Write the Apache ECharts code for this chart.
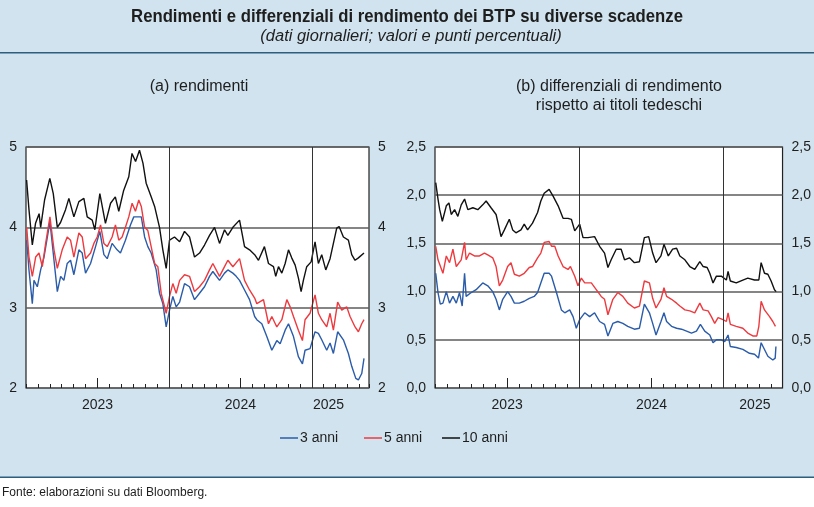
<!DOCTYPE html>
<html>
<head>
<meta charset="utf-8">
<script src="https://cdn.jsdelivr.net/npm/echarts@6/dist/echarts.min.js"></script>
<style>
  html, body { margin: 0; padding: 0; background: #d0e3ee; }
  #chart { width: 814px; height: 507px; }
</style>
</head>
<body>
<div id="chart"></div>
<script>
// x = mesi dal 1 gennaio 2023 (12 = inizio 2024, 24 = inizio 2025)
// (a) rendimenti
const rend3 = [[0.06,3.84],[0.25,3.47],[0.53,3.05],[0.67,3.34],[0.95,3.26],[1.23,3.47],[1.51,3.63],[2.01,4.07],[2.35,3.59],[2.63,3.2],[2.91,3.39],[3.18,3.34],[3.46,3.55],[3.74,3.59],[4.02,3.41],[4.44,3.72],[4.72,3.68],[5.0,3.43],[5.42,3.55],[5.84,3.76],[6.2,3.95],[6.54,3.66],[6.82,3.61],[7.23,3.8],[7.65,3.72],[7.93,3.68],[8.35,3.84],[8.77,4.03],[9.05,4.13],[9.47,4.13],[9.68,4.13],[9.96,3.88],[10.23,3.76],[10.51,3.68],[10.93,3.47],[11.21,3.18],[11.49,3.05],[11.77,2.76],[12.05,2.97],[12.33,3.14],[12.61,3.01],[12.9,3.07],[13.31,3.3],[13.73,3.26],[14.15,3.1],[14.57,3.18],[14.99,3.26],[15.41,3.39],[15.69,3.45],[16.25,3.34],[16.67,3.43],[16.95,3.47],[17.37,3.43],[17.65,3.39],[17.93,3.34],[18.35,3.22],[18.77,3.1],[19.2,2.89],[19.38,2.85],[19.8,2.8],[20.22,2.64],[20.64,2.47],[21.06,2.59],[21.34,2.55],[21.76,2.72],[22.04,2.8],[22.46,2.64],[22.87,2.39],[23.21,2.3],[23.43,2.47],[23.85,2.49],[24.27,2.7],[24.55,2.68],[24.83,2.6],[25.25,2.47],[25.53,2.56],[25.81,2.43],[26.17,2.7],[26.65,2.6],[27.07,2.43],[27.35,2.27],[27.69,2.12],[27.91,2.1],[28.19,2.18],[28.38,2.37]];
const rend5 = [[0.06,4.0],[0.25,3.63],[0.53,3.39],[0.81,3.63],[1.09,3.68],[1.37,3.51],[1.65,3.8],[2.01,4.13],[2.35,3.72],[2.63,3.49],[3.04,3.72],[3.46,3.88],[3.74,3.84],[4.02,3.63],[4.44,3.93],[4.72,3.88],[5.0,3.61],[5.42,3.68],[5.7,3.8],[5.98,3.88],[6.26,4.03],[6.54,3.8],[6.82,3.76],[7.23,3.88],[7.51,4.03],[7.79,3.84],[8.07,3.88],[8.35,4.0],[8.63,4.13],[8.91,4.3],[9.19,4.2],[9.47,4.34],[9.68,4.26],[9.96,4.0],[10.23,3.96],[10.51,3.76],[10.8,3.55],[11.07,3.51],[11.35,3.18],[11.77,2.93],[12.05,3.14],[12.33,3.3],[12.61,3.18],[12.9,3.34],[13.31,3.41],[13.73,3.39],[14.15,3.2],[14.57,3.26],[14.99,3.34],[15.41,3.47],[15.69,3.55],[16.25,3.39],[16.67,3.51],[16.95,3.59],[17.37,3.51],[17.93,3.61],[18.35,3.34],[18.77,3.22],[19.2,3.12],[19.38,3.05],[19.94,3.1],[20.36,2.8],[20.64,2.89],[21.06,2.76],[21.48,2.85],[21.9,3.1],[22.18,3.01],[22.46,2.89],[22.87,2.72],[23.21,2.59],[23.43,2.85],[23.85,2.93],[24.27,3.16],[24.55,2.93],[24.83,2.85],[25.25,2.76],[25.53,2.93],[25.81,2.72],[26.17,3.07],[26.51,2.97],[26.93,3.01],[27.21,2.89],[27.63,2.76],[27.91,2.7],[28.19,2.8],[28.38,2.85]];
const rend10 = [[0.05,4.59],[0.25,4.22],[0.53,3.78],[0.8,4.05],[1.1,4.17],[1.23,4.0],[1.56,4.34],[2.0,4.61],[2.29,4.42],[2.63,4.0],[2.9,4.06],[3.32,4.22],[3.6,4.36],[4.02,4.13],[4.44,4.32],[4.86,4.36],[5.14,4.13],[5.56,4.09],[5.78,3.97],[6.2,4.42],[6.67,4.05],[7.1,4.3],[7.5,4.38],[7.79,4.2],[8.2,4.46],[8.63,4.63],[8.9,4.92],[9.2,4.82],[9.53,4.96],[9.82,4.8],[10.09,4.55],[10.51,4.38],[10.8,4.26],[11.21,4.0],[11.49,3.72],[11.77,3.49],[12.05,3.84],[12.47,3.88],[12.9,3.82],[13.31,3.95],[13.73,3.88],[14.15,3.63],[14.57,3.68],[14.99,3.78],[15.41,3.9],[15.83,4.0],[16.25,3.8],[16.67,3.97],[16.95,3.9],[17.37,4.0],[17.93,4.09],[18.35,3.76],[18.77,3.72],[19.2,3.66],[19.52,3.59],[20.02,3.76],[20.36,3.55],[20.78,3.51],[20.97,3.39],[21.2,3.51],[21.48,3.43],[21.76,3.55],[22.04,3.72],[22.31,3.62],[22.6,3.53],[22.87,3.37],[23.1,3.2],[23.29,3.34],[23.57,3.51],[23.94,3.57],[24.27,3.82],[24.55,3.55],[24.83,3.66],[25.17,3.47],[25.53,3.61],[26.09,3.99],[26.29,4.01],[26.65,3.88],[27.07,3.84],[27.35,3.66],[27.63,3.59],[27.91,3.62],[28.38,3.68]];

// (b) differenziali rispetto ai titoli tedeschi
const diff3 = [[0.06,1.19],[0.25,0.99],[0.44,0.87],[0.66,0.88],[0.94,1.0],[1.21,0.88],[1.49,0.95],[1.77,0.88],[2.04,0.99],[2.26,0.85],[2.46,1.19],[2.59,0.95],[3.01,0.99],[3.42,1.02],[3.97,1.09],[4.39,1.06],[4.8,1.0],[5.08,0.92],[5.35,0.81],[5.63,0.92],[6.04,1.0],[6.32,0.95],[6.6,0.88],[7.01,0.88],[7.42,0.9],[7.84,0.93],[8.25,0.95],[8.53,0.99],[8.8,1.09],[9.08,1.19],[9.49,1.19],[9.69,1.16],[10.1,0.99],[10.51,0.81],[10.79,0.78],[11.2,0.81],[11.48,0.74],[11.75,0.62],[12.03,0.71],[12.45,0.78],[12.86,0.74],[13.27,0.78],[13.69,0.69],[14.1,0.66],[14.38,0.54],[14.79,0.67],[15.2,0.69],[15.62,0.67],[16.03,0.64],[16.58,0.61],[17.0,0.62],[17.41,0.87],[17.83,0.78],[18.1,0.67],[18.38,0.55],[18.79,0.69],[19.04,0.78],[19.26,0.69],[19.67,0.64],[20.09,0.62],[20.5,0.61],[20.92,0.59],[21.33,0.57],[21.74,0.59],[22.07,0.66],[22.43,0.59],[22.85,0.55],[23.12,0.47],[23.4,0.5],[23.81,0.5],[24.09,0.48],[24.37,0.55],[24.56,0.43],[25.05,0.42],[25.6,0.4],[26.15,0.36],[26.57,0.35],[26.9,0.31],[27.12,0.47],[27.4,0.4],[27.68,0.33],[28.09,0.29],[28.29,0.31],[28.35,0.43]];
const diff5 = [[0.06,1.47],[0.25,1.33],[0.66,1.19],[0.94,1.37],[1.21,1.3],[1.49,1.44],[1.77,1.26],[2.18,1.33],[2.46,1.51],[2.59,1.33],[2.87,1.4],[3.28,1.37],[3.7,1.37],[4.11,1.4],[4.39,1.38],[4.8,1.35],[5.08,1.26],[5.35,1.06],[5.63,1.12],[6.04,1.26],[6.32,1.3],[6.6,1.18],[7.01,1.16],[7.42,1.19],[7.84,1.25],[8.11,1.26],[8.53,1.35],[8.8,1.4],[9.08,1.51],[9.49,1.52],[9.69,1.47],[9.96,1.47],[10.24,1.37],[10.65,1.26],[11.06,1.23],[11.26,1.26],[11.62,1.16],[11.89,1.06],[12.17,1.14],[12.45,1.09],[13.0,1.09],[13.41,1.02],[13.82,0.95],[14.1,0.92],[14.38,0.76],[14.79,0.92],[15.2,0.99],[15.62,0.95],[16.03,0.88],[16.58,0.83],[17.0,0.85],[17.41,1.11],[17.83,1.09],[18.1,0.93],[18.38,0.83],[18.79,0.92],[19.04,1.04],[19.26,0.95],[19.67,0.92],[20.09,0.88],[20.36,0.85],[20.78,0.81],[21.19,0.8],[21.6,0.78],[22.02,0.88],[22.3,0.81],[22.71,0.8],[22.98,0.74],[23.26,0.67],[23.54,0.73],[23.95,0.71],[24.23,0.69],[24.37,0.78],[24.56,0.66],[25.05,0.64],[25.6,0.62],[26.01,0.57],[26.43,0.54],[26.76,0.54],[26.93,0.64],[27.12,0.9],[27.4,0.81],[27.82,0.74],[28.09,0.69],[28.31,0.64]];
const diff10 = [[0.06,2.13],[0.25,1.96],[0.39,1.85],[0.61,1.73],[0.94,1.89],[1.16,1.92],[1.35,1.8],[1.63,1.85],[1.9,1.78],[2.18,1.9],[2.46,1.96],[2.73,1.85],[3.15,1.87],[3.56,1.85],[3.97,1.9],[4.25,1.94],[4.66,1.87],[5.08,1.8],[5.3,1.68],[5.49,1.57],[5.77,1.64],[6.18,1.75],[6.46,1.64],[6.73,1.61],[7.15,1.64],[7.42,1.7],[7.7,1.64],[8.11,1.71],[8.53,1.82],[8.8,1.94],[9.08,2.02],[9.49,2.06],[9.82,1.99],[10.24,1.89],[10.65,1.76],[11.06,1.76],[11.34,1.75],[11.62,1.63],[12.03,1.7],[12.31,1.56],[12.72,1.56],[13.27,1.57],[13.69,1.47],[14.1,1.4],[14.38,1.25],[14.65,1.33],[15.07,1.44],[15.48,1.44],[15.76,1.33],[16.17,1.35],[16.58,1.3],[17.0,1.31],[17.41,1.56],[17.77,1.57],[18.1,1.4],[18.38,1.3],[18.79,1.37],[19.04,1.49],[19.4,1.37],[19.76,1.44],[20.09,1.45],[20.36,1.37],[20.78,1.33],[21.19,1.26],[21.6,1.23],[22.02,1.31],[22.3,1.26],[22.63,1.25],[22.85,1.19],[23.12,1.09],[23.4,1.16],[23.81,1.16],[24.23,1.12],[24.37,1.21],[24.56,1.11],[25.05,1.09],[25.6,1.12],[26.01,1.14],[26.57,1.12],[26.93,1.12],[27.12,1.3],[27.4,1.19],[27.68,1.18],[27.95,1.11],[28.23,1.02],[28.37,1.0]];

// etichette degli anni (posizione in mesi) e righe verticali di inizio anno
const anniLabel = ['2023', '2024', '2025'];
const anniPosA = [6, 18, 25.4];
const anniPosB = [6, 18, 26.6];
const inizioAnno = [12, 24];
const metaAnno = [6, 18];
const nomi = ['3 anni', '5 anni', '10 anni'];

const colori = { '3 anni': '#2a5caa', '5 anni': '#ee3a3f', '10 anni': '#111111' };
const FONT = '"Liberation Sans", Arial, sans-serif';
const TXT = '#1e1e1e';

const chart = echarts.init(document.getElementById('chart'), null, { renderer: 'canvas' });

function xAxes(grid, max, anniPos) {
  return [{
    gridIndex: grid, type: 'value', min: 0, max: max, interval: 1,
    axisLine: { show: false },
    axisTick: { show: true, inside: true, length: 4, lineStyle: { color: '#222' } },
    axisLabel: { show: false }, splitLine: { show: false }
  }, {
    gridIndex: grid, type: 'value', min: 0, max: max, position: 'bottom',
    axisLine: { show: false },
    axisTick: { show: true, inside: true, length: 10, customValues: metaAnno, lineStyle: { color: '#222' } },
    axisLabel: {
      show: true, customValues: anniPos, margin: 10,
      formatter: v => anniLabel[anniPos.indexOf(v)] || '',
      fontFamily: FONT, fontSize: 14, color: TXT
    },
    splitLine: { show: false }
  }];
}

function yAxes(grid, min, max, step, fmt) {
  const base = {
    gridIndex: grid, type: 'value', min: min, max: max, interval: step,
    axisLine: { show: false }, axisTick: { show: false }
  };
  return [
    Object.assign({}, base, {
      position: 'left',
      axisLabel: { formatter: fmt, margin: 9, fontFamily: FONT, fontSize: 14, color: TXT },
      splitLine: { show: true, lineStyle: { color: '#5c5c5c', width: 1.5 } }
    }),
    Object.assign({}, base, {
      position: 'right',
      axisLabel: { formatter: fmt, margin: 9, fontFamily: FONT, fontSize: 14, color: TXT },
      splitLine: { show: false }
    })
  ];
}

function serie(name, data, xi, yi, withYears) {
  const s = {
    name: name, type: 'line', data: data, xAxisIndex: xi, yAxisIndex: yi,
    showSymbol: false, symbol: 'none', smooth: false,
    lineStyle: { color: colori[name], width: 1.4 }, itemStyle: { color: colori[name] },
    z: 3
  };
  if (withYears) {
    s.markLine = {
      silent: true, symbol: 'none', label: { show: false },
      lineStyle: { color: '#333', width: 1, type: 'solid' },
      data: inizioAnno.map(v => ({ xAxis: v }))
    };
  }
  return s;
}

// una legenda per voce, per collocarle come nell'originale
const legendLeft = [280, 364, 442];
const legends = nomi.map((n, i) => ({
  left: legendLeft[i], top: 431, padding: 0, itemWidth: 18, itemHeight: 1.5,
  icon: 'rect', data: [n],
  textStyle: { fontFamily: FONT, fontSize: 14, color: TXT, padding: [0, 0, 0, -3] }
}));

// testo "stretto" come l'originale (Helvetica Condensed)
function testo(str, x, y, font, sx) {
  return {
    type: 'text', z: 10, x: x, y: y, scaleX: sx || 1,
    style: { text: str, x: 0, y: 0, textAlign: 'center', textVerticalAlign: 'middle', font: font, fill: TXT }
  };
}

const fmtA = v => String(v);
const fmtB = v => v.toFixed(1).replace('.', ',');

chart.setOption({
  animation: false,
  backgroundColor: '#d0e3ee',
  grid: [
    { left: 26, top: 147, width: 343, height: 241, show: true, backgroundColor: '#fff', borderColor: '#222', borderWidth: 1.2 },
    { left: 435, top: 147, width: 348, height: 241, show: true, backgroundColor: '#fff', borderColor: '#222', borderWidth: 1.2 }
  ],
  xAxis: xAxes(0, 28.8, anniPosA).concat(xAxes(1, 28.9, anniPosB)),
  yAxis: yAxes(0, 2, 5, 1, fmtA).concat(yAxes(1, 0, 2.5, 0.5, fmtB)),
  legend: legends,
  series: [
    serie('3 anni', rend3, 0, 0, true),
    serie('5 anni', rend5, 0, 0, false),
    serie('10 anni', rend10, 0, 0, false),
    serie('3 anni', diff3, 2, 2, true),
    serie('5 anni', diff5, 2, 2, false),
    serie('10 anni', diff10, 2, 2, false)
  ],
  graphic: [
    testo('Rendimenti e differenziali di rendimento dei BTP su diverse scadenze', 407, 17, 'bold 19px ' + FONT, 0.88),
    testo('(dati giornalieri; valori e punti percentuali)', 411, 37, 'italic 16px ' + FONT, 1.03),
    { type: 'rect', z: 5, shape: { x: 0, y: 52, width: 814, height: 1.5 }, style: { fill: '#2b5f7e' } },
    testo('(a) rendimenti', 199, 87, '16px ' + FONT, 1),
    testo('(b) differenziali di rendimento', 619, 87, '16px ' + FONT, 1),
    testo('rispetto ai titoli tedeschi', 619, 106, '16px ' + FONT, 1),
    { type: 'rect', z: 5, shape: { x: 0, y: 478, width: 814, height: 29 }, style: { fill: '#ffffff' } },
    { type: 'rect', z: 6, shape: { x: 0, y: 476.5, width: 814, height: 1.5 }, style: { fill: '#2b5f7e' } },
    { type: 'text', z: 10, style: { text: 'Fonte: elaborazioni su dati Bloomberg.', x: 2, y: 493, textAlign: 'left', textVerticalAlign: 'middle', font: '12px ' + FONT, fill: TXT } }
  ]
});
</script>
</body>
</html>
